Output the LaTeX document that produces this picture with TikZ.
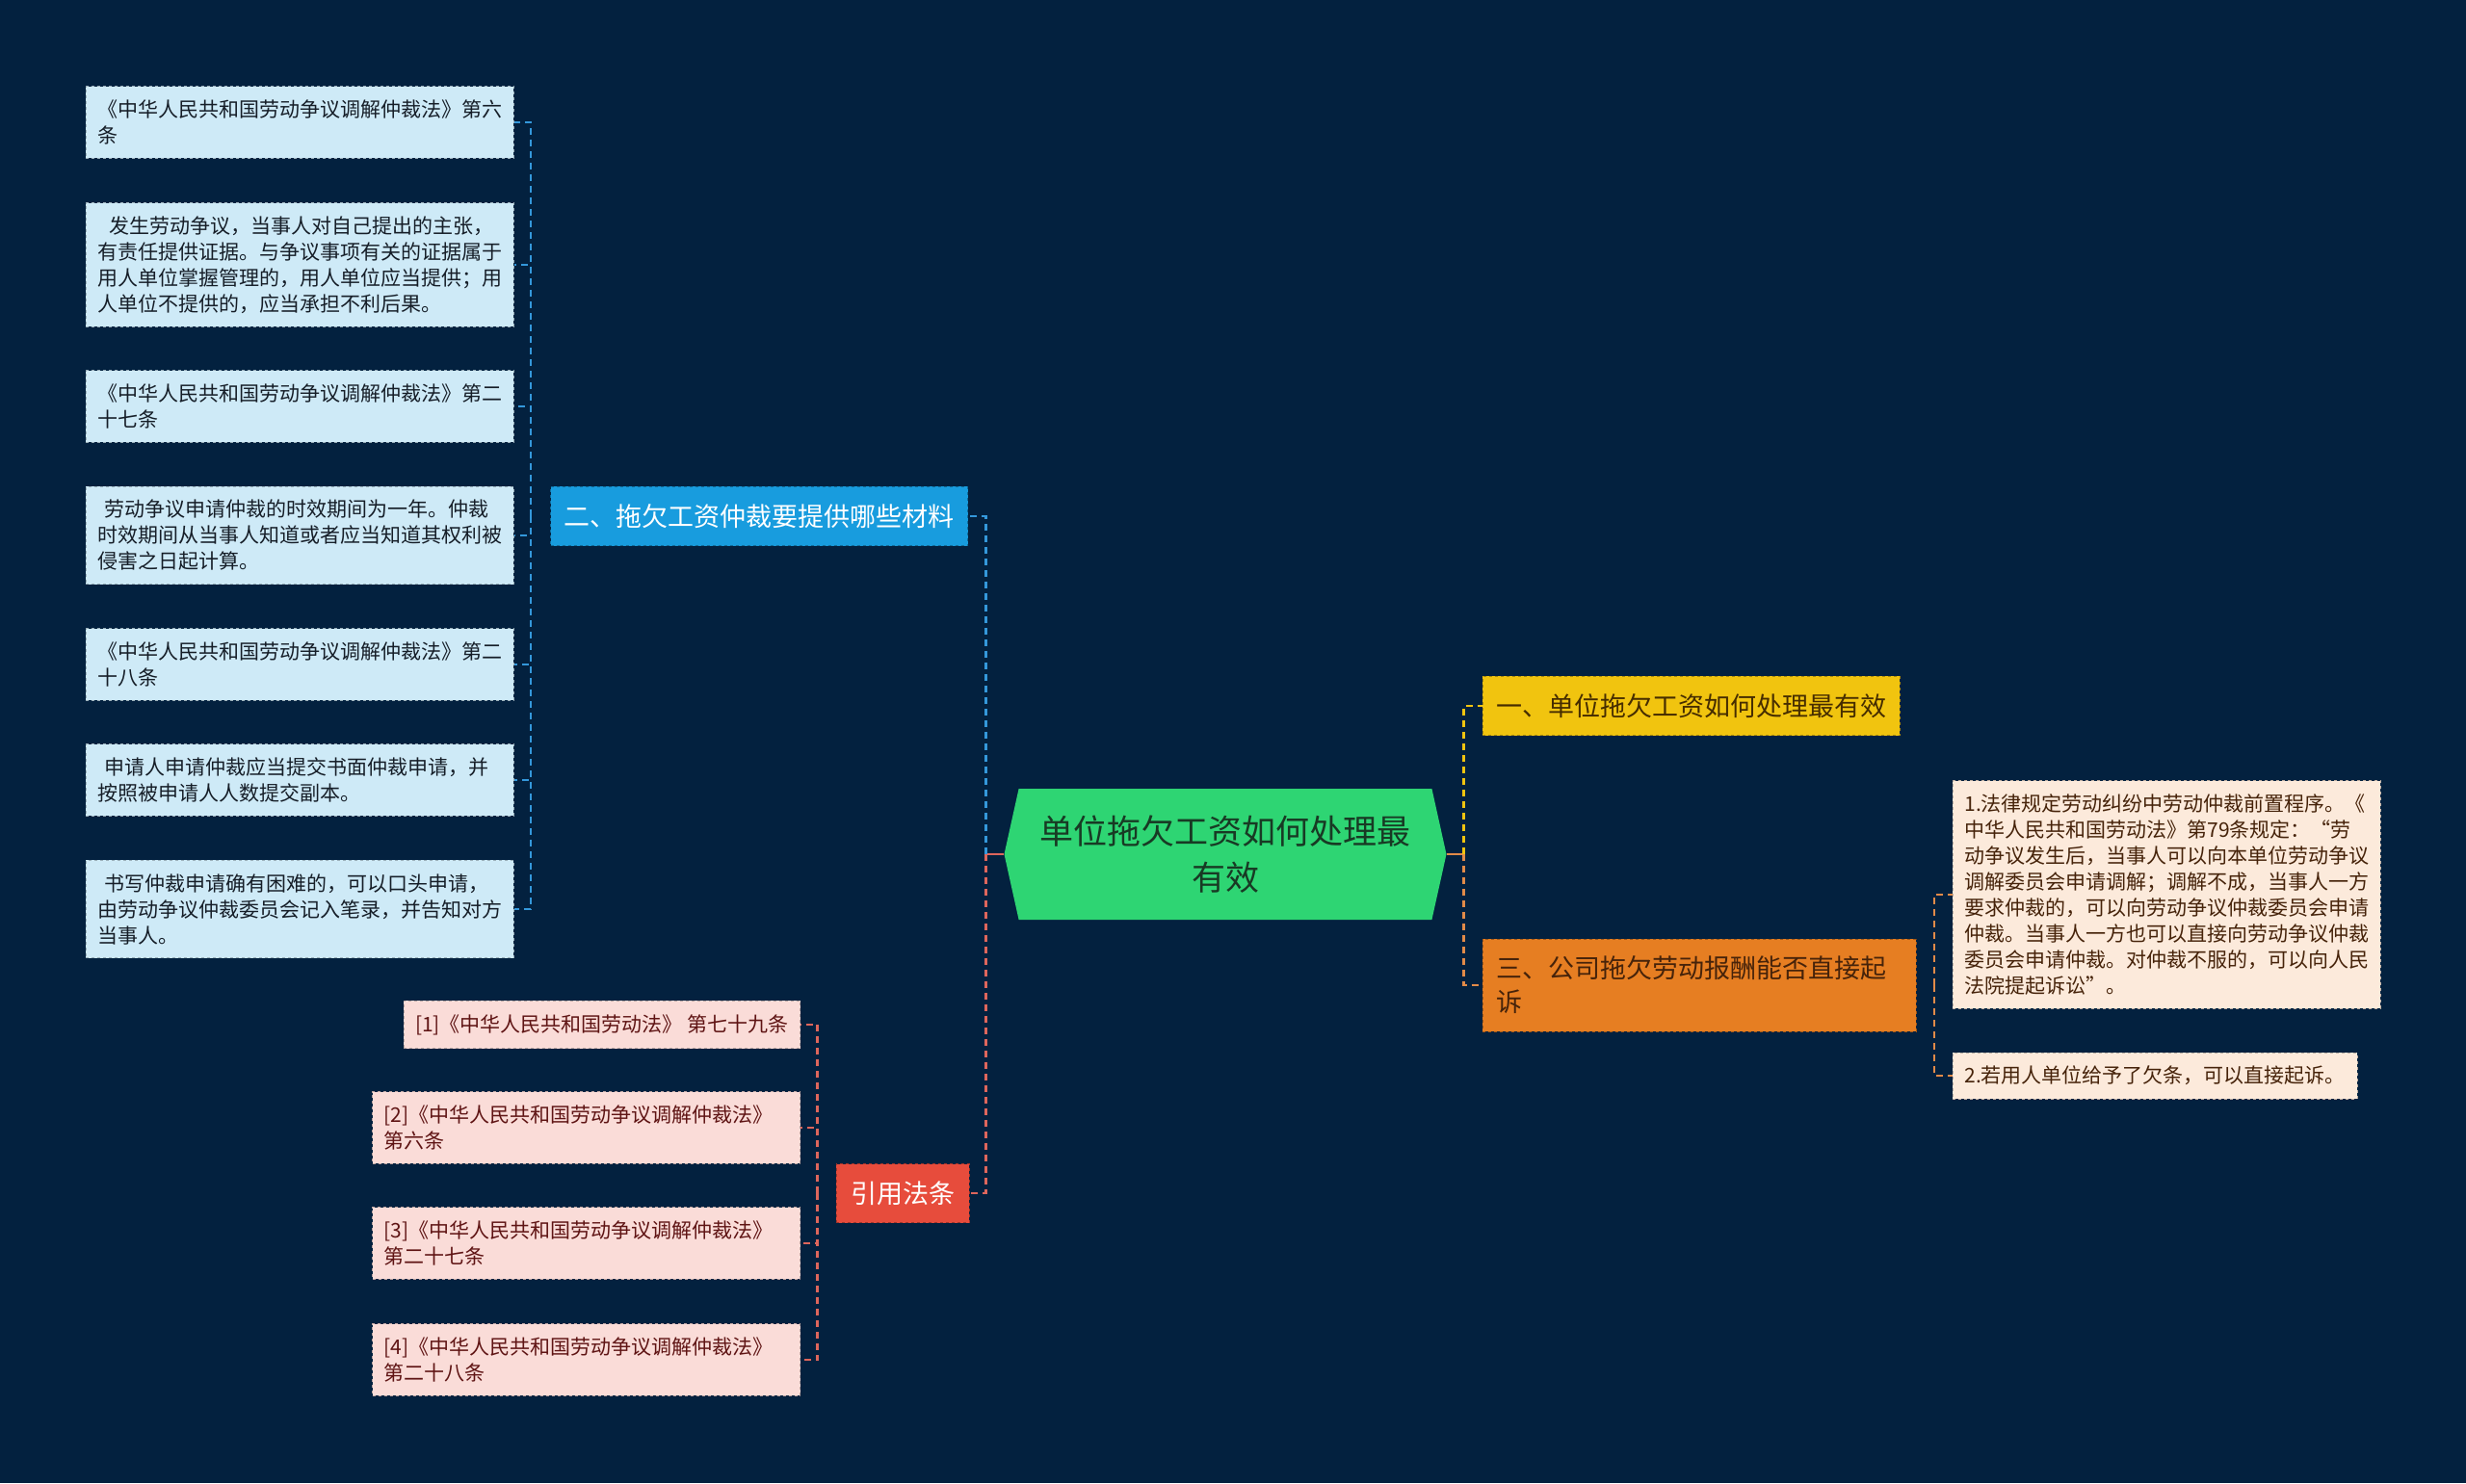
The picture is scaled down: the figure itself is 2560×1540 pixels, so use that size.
\documentclass[tikz,border=0pt]{standalone}
\usepackage{fontspec}
\setmainfont{Noto Sans CJK SC}
\usepackage{xcolor}
\usepackage{tikz}
\usetikzlibrary{shapes.symbols}

\definecolor{bgnavy}{RGB}{3,33,63}
\definecolor{rootgreen}{RGB}{46,213,115}
\definecolor{roottext}{RGB}{24,58,36}
\definecolor{matblue}{RGB}{24,156,222}
\definecolor{matline}{RGB}{52,152,219}
\definecolor{matleaf}{RGB}{206,234,247}
\definecolor{mattext}{RGB}{22,30,40}
\definecolor{wayyellow}{RGB}{241,196,15}
\definecolor{waytext}{RGB}{70,45,0}
\definecolor{sueorange}{RGB}{230,126,34}
\definecolor{sueline}{RGB}{226,139,72}
\definecolor{sueleaf}{RGB}{252,234,219}
\definecolor{suetext}{RGB}{70,35,10}
\definecolor{citered}{RGB}{231,76,60}
\definecolor{citeline}{RGB}{222,102,92}
\definecolor{citeleaf}{RGB}{250,220,216}
\definecolor{citetext}{RGB}{95,20,20}

\begin{document}
\begin{tikzpicture}[x=1pt, y=-1pt,
  link/.style={#1, line width=2.5pt, dash pattern=on 7pt off 5pt},
  leaf/.style={fill=#1, draw=#1!75!black, dashed, line width=0.8pt, align=left,
    inner xsep=12pt, inner ysep=14pt, font={\fontsize{21}{27}\selectfont}},
  topic/.style={fill=#1, draw=#1!70!black, dashed, line width=0.8pt, align=left,
    inner xsep=14pt, inner ysep=18pt, font={\fontsize{27}{35}\selectfont}}]
\fill[bgnavy] (0,0) rectangle (2560,1540);
\useasboundingbox (0,0) rectangle (2560,1540);

\node[signal, signal to=east and west, signal pointer angle=155, fill=rootgreen,
  text=roottext, minimum width=459pt, minimum height=136pt, align=center,
  font={\fontsize{35}{48}\selectfont}] (root) at (1272,887)
  {单位拖欠工资如何处理最\\有效};
\node[topic=matblue, text=white] (mat) at (788,536) {二、拖欠工资仲裁要提供哪些材料};
\node[topic=wayyellow, text=waytext, anchor=west] (way) at (1539,733)
  {一、单位拖欠工资如何处理最有效};
\node[topic=sueorange, text=suetext, anchor=west, text width=422pt] (sue) at (1539,1023)
  {三、公司拖欠劳动报酬能否直接起\\诉};
\node[topic=citered, text=white, inner xsep=15pt] (cite) at (937,1239) {引用法条};

\coordinate (rootL) at ([xshift=-19pt]root.west);
\coordinate (rootR) at ([xshift=18pt]root.east);
\coordinate (matL) at ([xshift=-20pt]mat.west);
\coordinate (sueR) at ([xshift=18pt]sue.east);
\coordinate (citeL) at ([xshift=-19pt]cite.west);

\draw[citeline, line width=2.5pt] (root.west) -- (rootL);
\draw[sueline, line width=2.5pt] (root.east) -- (rootR);
\draw[link=matline] (rootL) |- (mat.east);
\draw[link=citeline] (rootL) |- (cite.east);
\draw[link=wayyellow] (rootR) |- (way.west);
\draw[link=sueline] (rootR) |- (sue.west);

\foreach \i/\y/\txt in {
  1/127/{《中华人民共和国劳动争议调解仲裁法》第六\\条},
  2/275/{\hspace*{12pt}发生劳动争议，当事人对自己提出的主张，\\有责任提供证据。与争议事项有关的证据属于\\用人单位掌握管理的，用人单位应当提供；用\\人单位不提供的，应当承担不利后果。},
  3/422/{《中华人民共和国劳动争议调解仲裁法》第二\\十七条},
  4/556/{\hspace*{7pt}劳动争议申请仲裁的时效期间为一年。仲裁\\时效期间从当事人知道或者应当知道其权利被\\侵害之日起计算。},
  5/690/{《中华人民共和国劳动争议调解仲裁法》第二\\十八条},
  6/810/{\hspace*{7pt}申请人申请仲裁应当提交书面仲裁申请，并\\按照被申请人人数提交副本。},
  7/944/{\hspace*{7pt}书写仲裁申请确有困难的，可以口头申请，\\由劳动争议仲裁委员会记入笔录，并告知对方\\当事人。}} {
  \node[leaf=matleaf, text=mattext, anchor=west, text width=420pt] (mat\i) at (89,\y) {\txt};
  \draw[link=matline] (matL) |- (mat\i.east);
}

\node[leaf=sueleaf, text=suetext, anchor=west, text width=420pt] (sue1) at (2027,929)
  {1.法律规定劳动纠纷中劳动仲裁前置程序。《\\中华人民共和国劳动法》第79条规定：“劳\\动争议发生后，当事人可以向本单位劳动争议\\调解委员会申请调解；调解不成，当事人一方\\要求仲裁的，可以向劳动争议仲裁委员会申请\\仲裁。当事人一方也可以直接向劳动争议仲裁\\委员会申请仲裁。对仲裁不服的，可以向人民\\法院提起诉讼”。};
\node[leaf=sueleaf, text=suetext, anchor=west] (sue2) at (2027,1117)
  {2.若用人单位给予了欠条，可以直接起诉。};
\draw[link=sueline] (sueR) |- (sue1.west);
\draw[link=sueline] (sueR) |- (sue2.west);

\node[leaf=citeleaf, text=citetext, anchor=east] (cite1) at (831,1064)
  {[1]《中华人民共和国劳动法》 第七十九条};
\foreach \i/\y/\n in {2/1171/六, 3/1291/二十七, 4/1412/二十八} {
  \node[leaf=citeleaf, text=citetext, anchor=east, text width=420pt] (cite\i) at (831,\y)
    {[\i]《中华人民共和国劳动争议调解仲裁法》\\第\n 条};
}
\foreach \i in {1,...,4}
  \draw[link=citeline] (citeL) |- (cite\i.east);
\end{tikzpicture}
\end{document}
